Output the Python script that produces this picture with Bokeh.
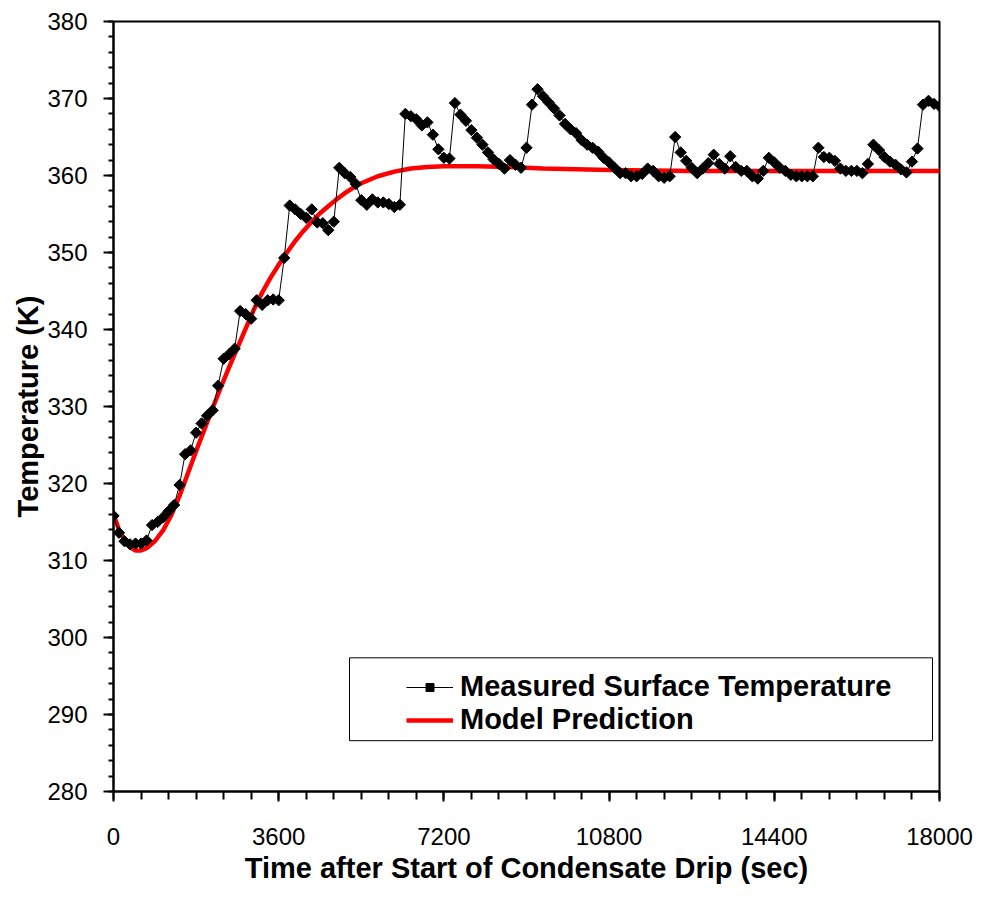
import numpy as np
from bokeh.plotting import figure
from bokeh.models import FixedTicker, Legend, LegendItem, BoxAnnotation, Range1d
from bokeh.embed import file_html
from bokeh.resources import INLINE

# ---------------- data ----------------
measured_time = [
    0, 120, 240, 360, 480, 600, 720, 840, 960, 1080, 1200, 1320, 1440, 1560, 1680, 1800,
    1920, 2040, 2160, 2280, 2400, 2520, 2640, 2760, 2880, 3000, 3120, 3240, 3360, 3480,
    3600, 3720, 3840, 3960, 4080, 4200, 4320, 4440, 4560, 4680, 4800, 4920, 5040, 5160,
    5280, 5400, 5520, 5640, 5760, 5880, 6000, 6120, 6240, 6360, 6480, 6600, 6720, 6840,
    6960, 7080, 7200, 7320, 7440, 7560, 7680, 7800, 7920, 8040, 8160, 8280, 8400, 8520,
    8640, 8760, 8880, 9000, 9120, 9240, 9360, 9480, 9600, 9720, 9840, 9960, 10080, 10200,
    10320, 10440, 10560, 10680, 10800, 10920, 11040, 11160, 11280, 11400, 11520, 11640,
    11760, 11880, 12000, 12120, 12240, 12360, 12480, 12600, 12720, 12840, 12960, 13080,
    13200, 13320, 13440, 13560, 13680, 13800, 13920, 14040, 14160, 14280, 14400, 14520,
    14640, 14760, 14880, 15000, 15120, 15240, 15360, 15480, 15600, 15720, 15840, 15960,
    16080, 16200, 16320, 16440, 16560, 16680, 16800, 16920, 17040, 17160, 17280, 17400,
    17520, 17640, 17760, 17880, 18000, 18120,
]
measured_temp = [
    315.8, 313.6, 312.5, 312.1, 312.2, 312.2, 312.6, 314.6, 315.0, 315.6, 316.4, 317.2,
    319.8, 323.8, 324.3, 326.6, 327.8, 328.8, 329.5, 332.7, 336.2, 336.8, 337.5, 342.4,
    342.0, 341.4, 343.8, 343.2, 343.8, 343.9, 343.8, 349.3, 356.1, 355.6, 355.0, 354.5,
    355.6, 353.9, 353.8, 352.9, 354.0, 361.0, 360.3, 359.8, 358.9, 356.8, 356.2, 356.9,
    356.5, 356.5, 356.3, 355.9, 356.2, 368.0, 367.7, 367.3, 366.5, 366.9, 365.3, 363.4,
    362.3, 362.2, 369.4, 367.9, 367.1, 365.9, 364.9, 364.0, 363.0, 362.1, 361.5, 360.9,
    362.0, 361.4, 361.0, 363.6, 369.2, 371.2, 370.3, 369.5, 368.7, 367.8, 366.7, 366.0,
    365.5, 364.6, 364.0, 363.6, 363.1, 362.3, 361.7, 361.0, 360.3, 360.3, 359.9, 359.9,
    360.2, 360.9, 360.6, 359.9, 359.7, 359.9, 365.0, 363.0, 361.9, 361.0, 360.3, 360.9,
    361.6, 362.7, 361.5, 360.9, 362.5, 361.1, 360.6, 360.6, 359.9, 359.6, 360.6, 362.3,
    361.7, 361.0, 360.6, 360.1, 359.9, 359.9, 359.9, 359.9, 363.6, 362.4, 362.3, 361.9,
    360.9, 360.6, 360.6, 360.6, 360.3, 361.5, 364.0, 363.3, 362.4, 361.8, 361.4, 360.8,
    360.4, 361.8, 363.5, 369.2, 369.7, 369.3, 369.0, 368.6,
]

model_time = [
    0, 120, 240, 360, 480, 600, 720, 900, 1080, 1260, 1440, 1620, 1800, 1980, 2160, 2340,
    2520, 2700, 2880, 3060, 3240, 3420, 3600, 3780, 3960, 4140, 4320, 4500, 4680, 4860,
    5040, 5220, 5400, 5760, 6120, 6480, 6840, 7200, 7560, 7920, 8640, 9360, 10080, 10800,
    12600, 14400, 16200, 18000,
]
model_temp = [
    316.0, 314.0, 312.6, 311.7, 311.3, 311.3, 311.6, 312.5, 313.9, 315.9, 318.4, 321.3,
    324.2, 327.0, 329.8, 332.5, 335.1, 337.6, 340.1, 342.6, 344.8, 346.7, 348.4, 350.0,
    351.5, 352.8, 354.0, 355.1, 356.0, 356.9, 357.7, 358.4, 359.0, 359.9, 360.5, 360.9,
    361.1, 361.2, 361.2, 361.2, 361.1, 360.9, 360.8, 360.7, 360.6, 360.6, 360.6, 360.6,
]

x_major = [0, 3600, 7200, 10800, 14400, 18000]
y_major = [280, 290, 300, 310, 320, 330, 340, 350, 360, 370, 380]

series_names = ["Measured Surface Temperature", "Model Prediction"]

# ---------------- figure ----------------
FONT = "Liberation Sans"

p = figure(
    width=973, height=886,
    output_backend="svg", toolbar_location=None,
    x_range=Range1d(0, 18000), y_range=Range1d(280, 380),
    min_border_left=113, min_border_right=34, min_border_top=21, min_border_bottom=93,
)
p.background_fill_color = "white"
p.border_fill_color = "white"
p.outline_line_color = "black"
p.outline_line_width = 2
p.xgrid.visible = False
p.ygrid.visible = False

red_r = p.line(model_time, model_temp, line_color="#ff0000", line_width=4.5)
meas_line = p.line(measured_time, measured_temp, line_color="black", line_width=1)
meas_pts = p.scatter(measured_time, measured_temp, marker="square", angle=np.pi / 4,
                     size=8, fill_color="black", line_color="black")

# axes
for ax in (p.xaxis[0], p.yaxis[0]):
    ax.axis_line_color = "black"
    ax.axis_line_width = 2
    ax.major_tick_line_color = "black"
    ax.major_tick_line_width = 2
    ax.minor_tick_line_color = "black"
    ax.minor_tick_line_width = 2
    ax.major_tick_in = 0
    ax.minor_tick_in = 0
    ax.major_label_text_font = FONT
    ax.major_label_text_font_size = "24px"
    ax.major_label_text_color = "black"
    ax.axis_label_text_font = FONT
    ax.axis_label_text_font_style = "bold"
    ax.axis_label_text_font_size = "29px"
    ax.axis_label_text_color = "black"

p.xaxis.ticker = FixedTicker(ticks=x_major, minor_ticks=list(range(0, 18001, 600)))
p.yaxis.ticker = FixedTicker(ticks=y_major, minor_ticks=list(range(280, 381, 2)))
p.xaxis.major_tick_out = 10
p.xaxis.minor_tick_out = 8
p.yaxis.major_tick_out = 10
p.yaxis.minor_tick_out = 5
p.xaxis.major_label_standoff = 26
p.yaxis.major_label_standoff = 16
p.xaxis.axis_label = "Time after Start of Condensate Drip (sec)"
p.yaxis.axis_label = "Temperature (K)"
p.xaxis.axis_label_standoff = 4
p.yaxis.axis_label_standoff = 0

# legend frame
p.add_layout(BoxAnnotation(left=5143, right=17847, bottom=286.6, top=297.36,
                           fill_alpha=0, line_color="black", line_width=1,
                           line_alpha=1))

legend = Legend(
    items=[
        LegendItem(label=series_names[0], renderers=[meas_line, meas_pts]),
        LegendItem(label=series_names[1], renderers=[red_r]),
    ],
    location=(283, 45),
    border_line_alpha=0,
    background_fill_alpha=0,
    glyph_width=47, glyph_height=20,
    label_standoff=7, padding=10, spacing=0, margin=0,
    label_text_font=FONT, label_text_font_style="bold",
    label_text_font_size="29px", label_text_color="black",
)
p.add_layout(legend)

open("out.html", "w").write(file_html(p, INLINE))
